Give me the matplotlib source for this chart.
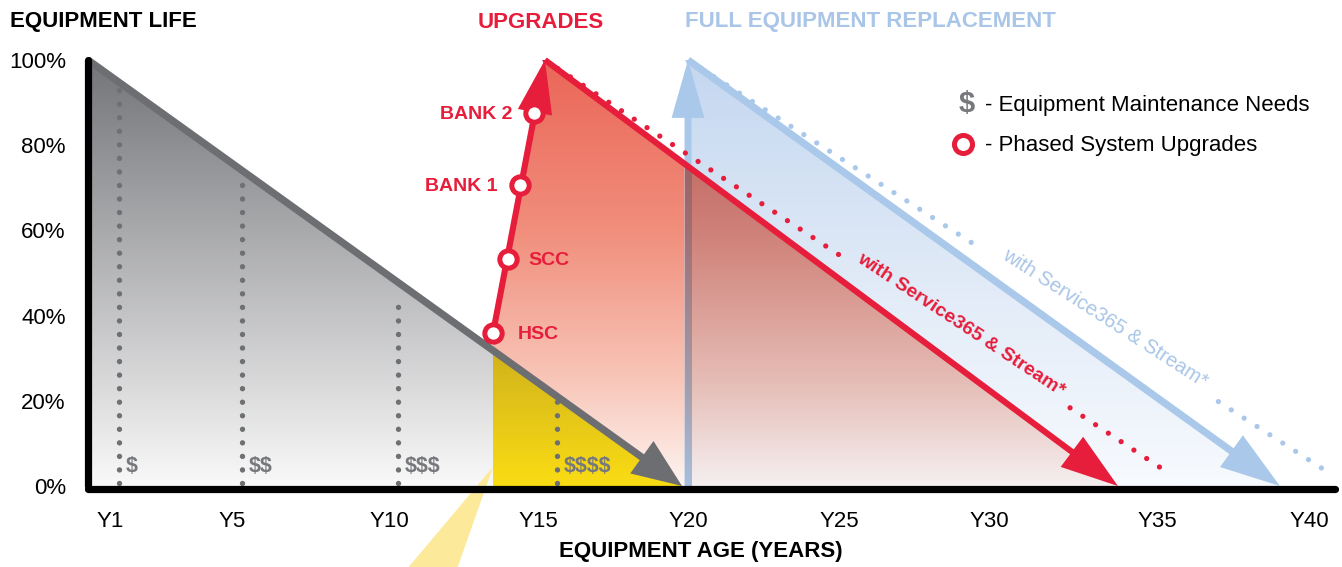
import numpy as np
import matplotlib
matplotlib.use('Agg')
import matplotlib.pyplot as plt
from matplotlib.patches import Polygon, Rectangle

plt.rcParams['font.family'] = ['Liberation Sans', 'DejaVu Sans']
plt.rcParams['text.parse_math'] = False

# ---------------- data ----------------
x_tick_pos = [0.75, 4.8, 10.05, 15.0, 20.0, 25.05, 30.05, 35.65, 40.7]
x_tick_labels = ['Y1', 'Y5', 'Y10', 'Y15', 'Y20', 'Y25', 'Y30', 'Y35', 'Y40']
y_ticks = [0, 20, 40, 60, 80, 100]
y_tick_labels = ['0%', '20%', '40%', '60%', '80%', '100%']

base_start = (0.0, 100.0)          # equipment life without upgrades
base_end = (19.8, 0.0)

maint_x = [1.03, 5.13, 10.33, 15.63]
maint_top = [93, 71, 45, 20]
maint_labels = ['$', '$$', '$$$', '$$$$']
maint_label_y = 4.6

yellow_x = 13.5                    # start of the upgrade window

upgrade_x = [13.5, 14.0, 14.4, 14.87]
upgrade_y = [35.9, 53.3, 70.7, 87.6]
upgrade_names = ['HSC', 'SCC', 'BANK 1', 'BANK 2']
upgrade_peak = (15.23, 100.0)
upgrade_end = (34.33, 0.0)
upgrade_ext_end = (36.07, 2.8)

replace_x = 20.0
replace_peak = (20.0, 100.0)
replace_end = (39.73, 0.0)
replace_ext_end = (41.43, 2.8)

ext_label = 'with Service365 & Stream*'

# ---------------- style ----------------
RED = '#e61d3b'
BLUE = '#aac8ea'
BLUE_TXT = '#a9c5e7'
GRAY = '#6d6e72'
DOTGRAY = '#6f7074'

W, H = 1342, 567
fig = plt.figure(figsize=(W / 100, H / 100), dpi=100)
X0, Y0, PXX, PXY = 88, 486, 30.0, 4.26
ax = fig.add_axes([X0 / W, (H - Y0) / H, (W - X0) / W, 100 * PXY / H])
ax.set_xlim(0, (W - X0) / PXX)
ax.set_ylim(0, 100)
ax.set_facecolor('none')
for s in ax.spines.values():
    s.set_visible(False)


def line_y(p, q, x):
    return p[1] + (q[1] - p[1]) * (x - p[0]) / (q[0] - p[0])


def along(p, q, f):
    return (p[0] + (q[0] - p[0]) * f, p[1] + (q[1] - p[1]) * f)


def grad_colors(stops, n=256):
    ys = np.linspace(0, 100, n)
    sy = [s[0] for s in stops]
    cols = np.array([s[1] for s in stops], dtype=float) / 255.0
    return np.stack([np.interp(ys, sy, cols[:, k]) for k in range(3)], axis=1)


def grad_image(verts, rgb, zorder):
    poly = Polygon(verts, closed=True, facecolor='none', edgecolor='none')
    ax.add_patch(poly)
    xs = [v[0] for v in verts]
    im = ax.imshow(rgb.reshape(-1, 1, 3), extent=[min(xs), max(xs), 0, 100],
                   origin='lower', aspect='auto', interpolation='bilinear',
                   zorder=zorder)
    im.set_clip_path(poly)
    return im


red_grad = grad_colors([(0, (253, 244, 241)), (25, (248, 198, 184)),
                        (60, (241, 142, 124)), (100, (235, 102, 88))])
blue_grad = grad_colors([(0, (247, 250, 254)), (50, (224, 234, 247)),
                         (100, (196, 215, 240))])
gray_grad = grad_colors([(0, (249, 249, 249)), (100, (116, 117, 121))])
yellow_grad = grad_colors([(0, (250, 220, 20)), (32, (208, 178, 28)),
                           (100, (208, 178, 28))])
shaft_rgb = np.array([169, 199, 233]) / 255.0

# red (upgrade) region
gy_at_yellow = line_y(base_start, base_end, yellow_x)
red_verts = [(yellow_x, gy_at_yellow), (upgrade_x[0], upgrade_y[0]), upgrade_peak,
             upgrade_end, (yellow_x, 0)]
grad_image(red_verts, red_grad, 1)

# blue (replacement) region
blue_verts = [replace_peak, replace_end, (replace_x, 0)]
grad_image(blue_verts, blue_grad, 2)

# overlap (multiply)
ry = line_y(upgrade_peak, upgrade_end, replace_x)
ov_verts = [(replace_x, ry), upgrade_end, (replace_x, 0)]
grad_image(ov_verts, red_grad * blue_grad, 3)

# gray base region
gray_verts = [base_start, base_end, (0, 0)]
grad_image(gray_verts, gray_grad, 4)

# yellow window
yel_verts = [(yellow_x, gy_at_yellow), base_end, (yellow_x, 0)]
grad_image(yel_verts, yellow_grad, 5)

# yellow beam below axis
beam = Polygon([(yellow_x, 4.5), (yellow_x - 1.2, -19.5), (yellow_x - 2.87, -19.5)],
               closed=True, facecolor='#fde99a', edgecolor='none', zorder=5,
               clip_on=False)
ax.add_patch(beam)

# maintenance dotted lines and $ labels
for mx, mt, lab in zip(maint_x, maint_top, maint_labels):
    ax.plot([mx, mx], [0.8, mt], color=DOTGRAY, lw=3.9,
            linestyle=(0, (0.001, 2.5)), dash_capstyle='round', zorder=6)
    ax.annotate(lab, (mx, maint_label_y), xytext=(5, 0), textcoords='offset points',
                ha='left', va='center', color='#77787c', fontsize=15.5,
                fontweight='bold', zorder=7)


def arrow(p_from, p_to, color, lw, hl, hw, z):
    ax.annotate('', xy=p_to, xytext=p_from,
                arrowprops=dict(arrowstyle=f'-|>,head_length={hl},head_width={hw}',
                                color=color, lw=lw, shrinkA=0, shrinkB=0,
                                mutation_scale=10, joinstyle='miter',
                                capstyle='butt'),
                zorder=z, annotation_clip=False)


# gray base arrow
arrow(base_start, base_end, GRAY, 5.2, 2.6, 1.05, 8)

# blue shaft (full), then multiplied lower part over red region
arrow((replace_x, 0), replace_peak, BLUE, 5.0, 3.0, 0.85, 6)
shaft_w = 7 / PXX / 2
shaft_rect = Rectangle((replace_x - shaft_w, 0), 2 * shaft_w, ry,
                       facecolor='none', edgecolor='none')
ax.add_patch(shaft_rect)
im = ax.imshow((red_grad * shaft_rgb).reshape(-1, 1, 3),
               extent=[replace_x - shaft_w, replace_x + shaft_w, 0, 100],
               origin='lower', aspect='auto', interpolation='bilinear', zorder=6.5)
im.set_clip_path(shaft_rect)

fig.canvas.draw()


def angle(p, q):
    a = ax.transData.transform(p)
    b = ax.transData.transform(q)
    return np.degrees(np.arctan2(b[1] - a[1], b[0] - a[0]))


def dotted_with_label(p, q, gap, f_text, color, z, weight, size):
    for a, b in [(0.0, gap[0]), (gap[1], 1.0)]:
        pa, pb = along(p, q, a), along(p, q, b)
        ax.plot([pa[0], pb[0]], [pa[1], pb[1]], color=color, lw=3.8,
                linestyle=(0, (0.001, 2.9)), dash_capstyle='round', zorder=z)
    ang = angle(p, q)
    c = along(p, q, f_text)
    off = 6.0
    nx, ny = -np.sin(np.radians(ang)) * off, np.cos(np.radians(ang)) * off
    ax.annotate(ext_label, c, xytext=(nx, ny), textcoords='offset points',
                rotation=ang, rotation_mode='anchor', ha='center', va='center',
                color=color if color != BLUE else BLUE_TXT, fontsize=size,
                fontweight=weight, zorder=z + 3)


# blue descending + dotted
dotted_with_label(replace_peak, replace_ext_end, (0.455, 0.825), 0.642, BLUE, 7,
                  'normal', 14.5)
arrow(replace_peak, replace_end, BLUE, 5.2, 3.2, 1.05, 8)

# red dotted + descending
dotted_with_label(upgrade_peak, upgrade_ext_end, (0.47, 0.84), 0.657, RED, 9,
                  'bold', 14)
arrow(upgrade_peak, upgrade_end, RED, 4.4, 3.2, 1.05, 10)

# red rising arrow through the upgrade points
arrow((upgrade_x[0], upgrade_y[0]), upgrade_peak, RED, 4.4, 2.9, 0.95, 10)
ax.plot(upgrade_x, upgrade_y, 'o', ms=12.5, mfc='white', mec=RED, mew=3.6,
        zorder=11, clip_on=False)
name_dx = [18, 15, -16, -16]
name_ha = ['left', 'left', 'right', 'right']
for ux, uy, nm, dx, ha in zip(upgrade_x, upgrade_y, upgrade_names, name_dx, name_ha):
    ax.annotate(nm, (ux, uy), xytext=(dx, -1), textcoords='offset points',
                ha=ha, va='center', color=RED, fontsize=14, fontweight='bold',
                zorder=12)

# axes lines
ax.plot([0, 0], [100, 0], color='black', lw=5.2, solid_capstyle='round',
        zorder=13, clip_on=False)
ax.plot([0, (1335 - X0) / PXX], [-0.6, -0.6], color='black', lw=5.2,
        solid_capstyle='round', zorder=13, clip_on=False)

# ticks
ax.set_xticks(x_tick_pos)
ax.set_xticklabels(x_tick_labels, fontsize=16)
ax.set_yticks(y_ticks)
ax.set_yticklabels(y_tick_labels, fontsize=16)
ax.tick_params(axis='x', length=0, pad=18)
ax.tick_params(axis='y', length=0, pad=16)

# legend
ax.text(29.3, 89.6, '$', ha='center', va='center', color='#77787c', fontsize=21,
        fontweight='bold', zorder=12)
ax.text(29.9, 89.4, '- Equipment Maintenance Needs', ha='left', va='center',
        color='black', fontsize=16, zorder=12)
ax.plot([29.17], [80.2], 'o', ms=13, mfc='white', mec=RED, mew=3.6, zorder=12)
ax.text(29.9, 80.0, '- Phased System Upgrades', ha='left', va='center',
        color='black', fontsize=16, zorder=12)

# titles
fig.text(10 / W, 1 - 22 / H, 'EQUIPMENT LIFE', ha='left', va='center',
         fontsize=16, fontweight='bold', color='black')
fig.text(541 / W, 1 - 22 / H, 'UPGRADES', ha='center', va='center',
         fontsize=16, fontweight='bold', color=RED)
fig.text(685 / W, 1 - 22 / H, 'FULL EQUIPMENT REPLACEMENT', ha='left', va='center',
         fontsize=16, fontweight='bold', color=BLUE_TXT)
fig.text(701 / W, 1 - 551 / H, 'EQUIPMENT AGE (YEARS)', ha='center', va='center',
         fontsize=16, fontweight='bold', color='black')

fig.savefig('out.png', dpi=100)
